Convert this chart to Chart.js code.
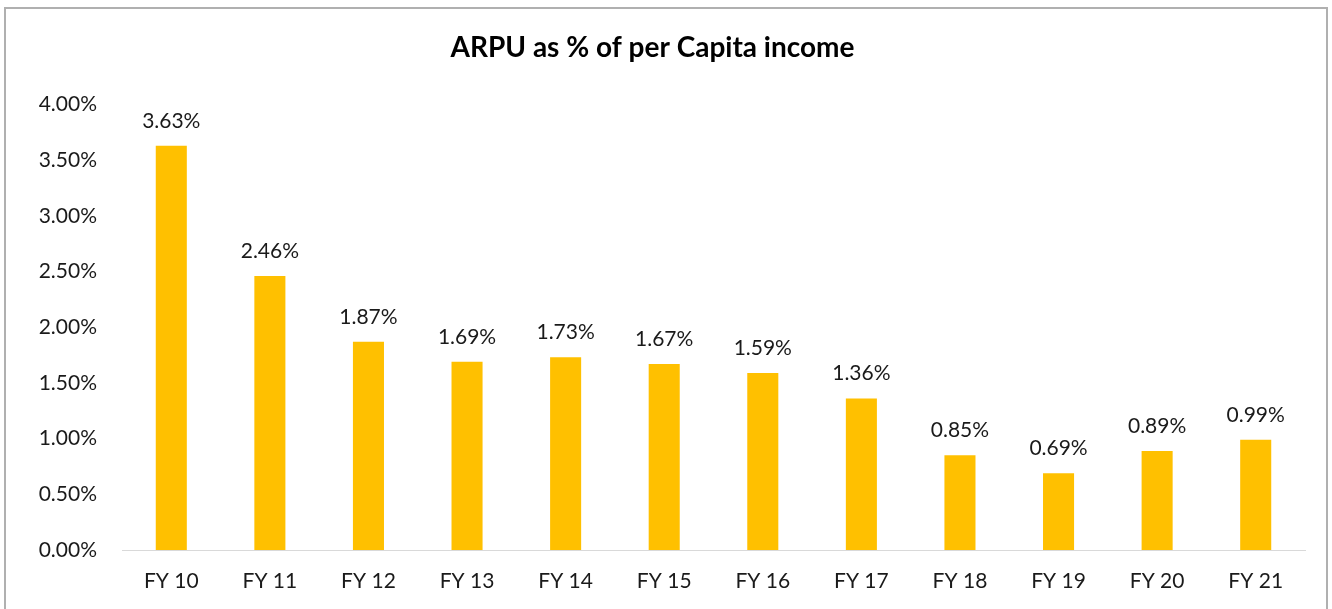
<!DOCTYPE html>
<html>
<head>
<meta charset="utf-8">
<script src="https://cdn.jsdelivr.net/npm/chart.js@4.4.0/dist/chart.umd.min.js"></script>
<style>
  html, body { margin: 0; padding: 0; background: #fff; overflow: hidden; }
  #wrap { position: absolute; left: 0; top: 0; width: 1332px; height: 609px; }
  #frame { position: absolute; left: 4px; top: 7px; width: 1320px; height: 620px; border: 2px solid #b0b0b0; pointer-events: none; }
</style>
</head>
<body>
<div id="wrap">
  <canvas id="arpuChart" width="1332" height="609"></canvas>
  <div id="frame"></div>
</div>
<script>
const categories = ['FY 10', 'FY 11', 'FY 12', 'FY 13', 'FY 14', 'FY 15', 'FY 16', 'FY 17', 'FY 18', 'FY 19', 'FY 20', 'FY 21'];
const arpuShare = [3.63, 2.46, 1.87, 1.69, 1.73, 1.67, 1.59, 1.36, 0.85, 0.69, 0.89, 0.99];
const yTicks = [0, 0.5, 1, 1.5, 2, 2.5, 3, 3.5, 4];

const fontFamily = 'Lato, "Open Sans", sans-serif';

// value labels above each bar
const barLabels = {
    id: 'barLabels',
    afterDatasetsDraw(chart) {
        const ctx = chart.ctx;
        const meta = chart.getDatasetMeta(0);
        ctx.save();
        ctx.font = '21px ' + fontFamily;
        ctx.fillStyle = '#1a1a1a';
        ctx.textAlign = 'center';
        ctx.textBaseline = 'middle';
        meta.data.forEach(function(bar, i) {
            ctx.fillText(arpuShare[i].toFixed(2) + '%', bar.x, bar.y - 25);
        });
        ctx.restore();
    }
};

new Chart(document.getElementById('arpuChart').getContext('2d'), {
    type: 'bar',
    data: {
        labels: categories,
        datasets: [{
            data: arpuShare,
            backgroundColor: '#FFC000',
            borderWidth: 0,
            barPercentage: 0.315,
            categoryPercentage: 1
        }]
    },
    options: {
        responsive: false,
        animation: false,
        layout: { padding: { left: 0, right: 27, top: 0, bottom: 0 } },
        plugins: {
            legend: { display: false },
            tooltip: { enabled: false },
            title: {
                display: true,
                text: 'ARPU as % of per Capita income',
                color: '#000',
                font: { family: fontFamily, size: 28, weight: 'bold' },
                padding: { top: 31, bottom: 40 }
            }
        },
        scales: {
            x: {
                grid: { display: false, drawTicks: false },
                border: { display: true, color: '#d9d9d9', width: 1 },
                ticks: {
                    color: '#1a1a1a',
                    padding: 19,
                    font: { family: fontFamily, size: 21 }
                },
                afterFit: function(scale) { scale.height = 59; }
            },
            y: {
                min: 0,
                max: 4,
                grid: { display: false, drawTicks: false },
                border: { display: false },
                afterBuildTicks: function(scale) {
                    scale.ticks = yTicks.map(v => ({ value: v }));
                },
                ticks: {
                    color: '#1a1a1a',
                    padding: 25,
                    font: { family: fontFamily, size: 21 },
                    callback: function(v) { return v.toFixed(2) + '%'; }
                },
                afterFit: function(scale) { scale.width = 122; }
            }
        }
    },
    plugins: [barLabels]
});
</script>
</body>
</html>
